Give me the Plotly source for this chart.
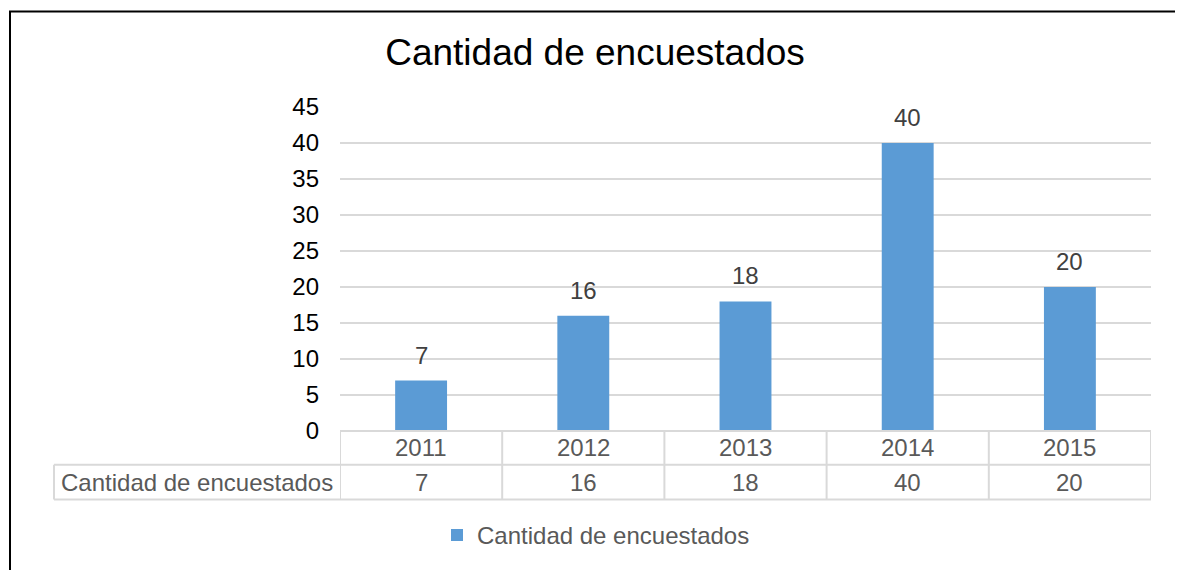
import plotly.graph_objects as go

# Datos
years = ["2011", "2012", "2013", "2014", "2015"]
respondents = [7, 16, 18, 40, 20]
series_name = "Cantidad de encuestados"
chart_title = "Cantidad de encuestados"
y_ticks = [0, 5, 10, 15, 20, 25, 30, 35, 40, 45]

# La página HTML añade 8px de margen al body
OFF = 8
W, H = 1183 - OFF, 570 - OFF
# area de trazado en pixeles de la captura
PL, PR, PT, PB = 340, 1151, 107, 433


def px_x(p):
    return (p - PL) / (PR - PL)


def px_y(p):
    return (PB - p) / (PB - PT)


FONT = "Arial, Liberation Sans, sans-serif"
GRAY = "#595959"
DARK = "#404040"
LINE = "#d9d9d9"
BLUE = "#5b9bd5"
FS = 24

fig = go.Figure()
fig.add_trace(go.Bar(
    x=years,
    y=respondents,
    name=series_name,
    marker=dict(color=BLUE, line=dict(width=0)),
    width=0.32,
))

# Etiquetas de datos sobre las barras
for i, v in enumerate(respondents):
    fig.add_annotation(x=i, y=v, text=str(v), showarrow=False, yanchor="bottom",
                       xanchor="center", yshift=10,
                       font=dict(size=FS, color=DARK, family=FONT))

# Tabla de datos
row1_mid, row_div, row2_mid, row_bot = px_y(450), px_y(467), px_y(485), px_y(502)
tbl_left = px_x(54)
for i, (yr, v) in enumerate(zip(years, respondents)):
    fig.add_annotation(x=i, y=row1_mid, yref="paper", text=yr, showarrow=False,
                       xanchor="center", yanchor="middle",
                       font=dict(size=FS, color=GRAY, family=FONT))
    fig.add_annotation(x=i, y=row2_mid, yref="paper", text=str(v), showarrow=False,
                       xanchor="center", yanchor="middle",
                       font=dict(size=FS, color=GRAY, family=FONT))
fig.add_annotation(x=tbl_left / 2, xref="paper", y=row2_mid, yref="paper",
                   text=series_name, showarrow=False, xanchor="center", yanchor="middle",
                   font=dict(size=FS, color=GRAY, family=FONT))

line_style = dict(color=LINE, width=2)
for i in range(len(years) + 1):
    fig.add_shape(type="line", xref="x", yref="paper", x0=i - 0.5, x1=i - 0.5,
                  y0=0, y1=row_bot, line=line_style)
fig.add_shape(type="line", xref="paper", yref="paper", x0=tbl_left, x1=tbl_left,
              y0=row_div, y1=row_bot, line=line_style)
fig.add_shape(type="line", xref="paper", yref="paper", x0=0, x1=1, y0=0, y1=0,
              line=line_style)
for yy in (row_div, row_bot):
    fig.add_shape(type="line", xref="paper", yref="paper", x0=tbl_left, x1=1,
                  y0=yy, y1=yy, line=line_style)

# Borde del gráfico
fig.add_shape(type="rect", xref="paper", yref="paper",
              x0=px_x(10), x1=px_x(1179), y0=px_y(620), y1=px_y(11),
              line=dict(color="black", width=2))

fig.update_layout(
    width=W, height=H,
    margin=dict(l=PL - OFF, r=W - (PR - OFF), t=PT - OFF, b=H - (PB - OFF), pad=0),
    paper_bgcolor="white", plot_bgcolor="white",
    title=dict(text=chart_title, x=px_x(595), xanchor="center", xref="paper",
               y=1 - (52 - OFF) / H, yanchor="middle",
               font=dict(size=37, color="black", family=FONT)),
    font=dict(family=FONT),
    showlegend=True,
    legend=dict(orientation="h", x=px_x(437), xanchor="left", y=px_y(538),
                yanchor="middle", font=dict(size=FS, color=GRAY, family=FONT),
                itemwidth=30, bgcolor="rgba(0,0,0,0)"),
    xaxis=dict(type="category", range=[-0.5, len(years) - 0.5], showticklabels=False,
               showline=False, showgrid=False, zeroline=False, ticks=""),
    yaxis=dict(range=[0, 45], tickvals=y_ticks, showgrid=True, gridcolor=LINE,
               gridwidth=1.5, zeroline=False, showline=False, ticks="",
               ticklabelstandoff=20,
               tickfont=dict(size=FS, color="black", family=FONT)),
)

fig.write_html("out.html")
